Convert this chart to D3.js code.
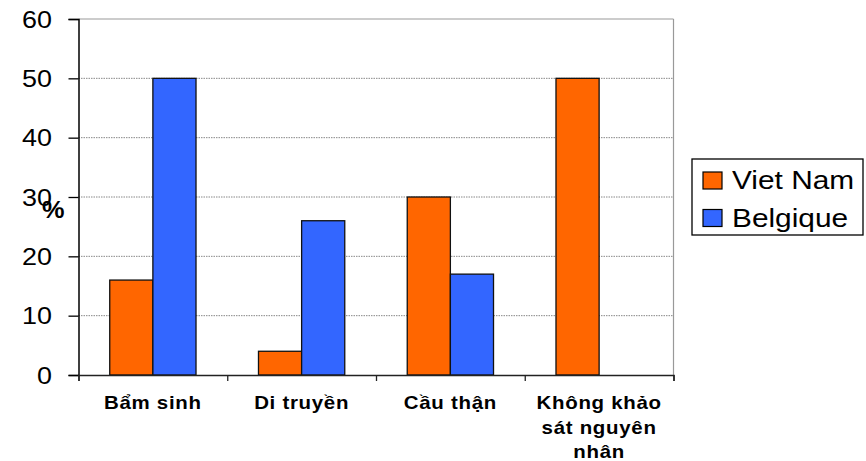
<!DOCTYPE html>
<html><head><meta charset="utf-8">
<script src="https://cdn.jsdelivr.net/npm/d3@7"></script>
<style>body{margin:0;background:#fff}svg{display:block}text{font-family:"Liberation Sans",Arial,sans-serif}</style>
</head><body><svg id="c" width="866" height="461"></svg>
<script>
const categories = [["Bẩm sinh"],["Di truyền"],["Cầu thận"],["Không khảo","sát nguyên","nhân"]];
const seriesNames = ["Viet Nam","Belgique"];
const vietNam = [16,4,30,50];
const belgique = [50,26,17,null];
const yTicks = [0,10,20,30,40,50,60];
const colors = ["#FF6600","#3366FF"];
const SX = 1.17;

const svg = d3.select("#c");
const L=78.5, R=673.5, T=19, B=375;
const x0 = d3.scaleBand().domain(d3.range(categories.length)).range([L,R]).paddingInner(0.42).paddingOuter(0.21);
const x1 = d3.scaleBand().domain(d3.range(seriesNames.length)).range([0,x0.bandwidth()]);
const y = d3.scaleLinear().domain([0,60]).range([B,T]);

// gridlines
svg.append("g").selectAll("line").data(yTicks.filter(d=>d>0&&d<60)).join("line")
  .attr("x1",L).attr("x2",R).attr("y1",d=>y(d)).attr("y2",d=>y(d))
  .attr("stroke","#888").attr("stroke-width",1).attr("stroke-dasharray","1.5,1");
// top & right border
svg.append("line").attr("x1",L).attr("x2",R).attr("y1",y(60)).attr("y2",y(60)).attr("stroke","#999").attr("stroke-width",1.2);
svg.append("line").attr("x1",R).attr("x2",R).attr("y1",y(60)).attr("y2",B).attr("stroke","#999").attr("stroke-width",1.2);

// bars
const series=[vietNam,belgique];
const g = svg.append("g");
series.forEach((vals,si)=>{
  g.selectAll(null).data(vals.map((v,i)=>({v,i})).filter(d=>d.v!=null)).join("rect")
   .attr("x",d=>x0(d.i)+x1(si)).attr("width",x1.bandwidth())
   .attr("y",d=>y(d.v)).attr("height",d=>B-y(d.v))
   .attr("fill",colors[si]).attr("stroke","#111").attr("stroke-width",1.3);
});

// y axis
const ya = svg.append("g").attr("transform",`translate(${L},0)`).call(d3.axisLeft(y).tickValues(yTicks).tickSize(10).tickFormat(""));
ya.select(".domain").attr("stroke","#000").attr("stroke-width",1.5);
ya.selectAll(".tick line").attr("stroke","#000").attr("stroke-width",1.3);
svg.append("g").selectAll("text").data(yTicks).join("text")
  .attr("transform",d=>`translate(52,${y(d)+8.5}) scale(${SX},1)`)
  .attr("text-anchor","end").attr("font-size",23).attr("fill","#000").text(d=>d);

// x axis
const xb = d3.scaleLinear().domain([0,categories.length]).range([L,R]);
const xa = svg.append("g").attr("transform",`translate(0,${B})`).call(d3.axisBottom(xb).tickValues(d3.range(categories.length+1)).tickSize(6).tickFormat(""));
xa.select(".domain").attr("stroke","#222").attr("stroke-width",1.5);
xa.selectAll(".tick line").attr("stroke","#222").attr("stroke-width",1.3);

categories.forEach((lines,i)=>{
  const cx = x0(i)+x0.bandwidth()/2;
  lines.forEach((t,j)=>{
    svg.append("text").attr("transform",`translate(${cx},${409+j*24.5}) scale(${SX},1)`)
      .attr("text-anchor","middle").attr("font-size",17.5).attr("font-weight","bold")
      .attr("letter-spacing",0.6).attr("fill","#000").text(t);
  });
});

// % label
svg.append("text").attr("transform",`translate(42,218) scale(1.1,1)`).attr("font-size",23).attr("font-weight","bold").attr("fill","#000").text("%");

// legend
const lg = svg.append("g");
lg.append("rect").attr("x",692).attr("y",159).attr("width",171).attr("height",76).attr("fill","#fff").attr("stroke","#000").attr("stroke-width",1.3);
seriesNames.forEach((n,i)=>{
  lg.append("rect").attr("x",703).attr("y",172+i*37.5).attr("width",19).attr("height",17).attr("fill",colors[i]).attr("stroke","#000").attr("stroke-width",1.2);
  lg.append("text").attr("transform",`translate(732,${189+i*37.5}) scale(${SX},1)`).attr("font-size",25.5).attr("fill","#000").text(n);
});
</script></body></html>
